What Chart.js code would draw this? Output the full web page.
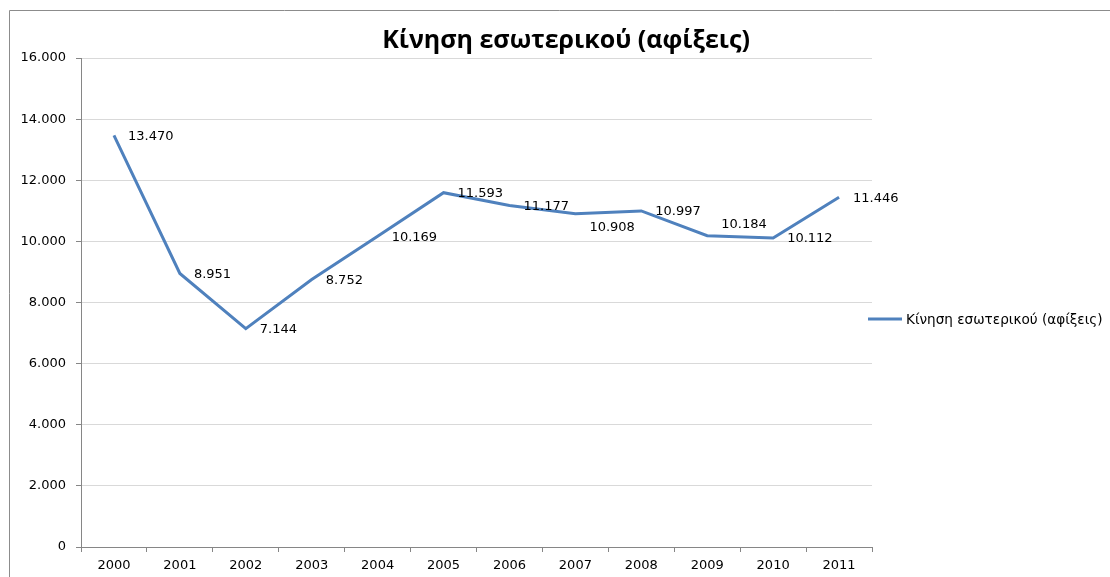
<!DOCTYPE html>
<html>
<head>
<meta charset="utf-8">
<script src="https://cdn.jsdelivr.net/npm/chart.js@4"></script>
<style>
  html, body { margin: 0; padding: 0; background: #fff; overflow: hidden; }
  #wrap { position: relative; width: 1110px; height: 577px; }
</style>
</head>
<body>
<div id="wrap"><canvas id="lineChart" width="1110" height="577"></canvas></div>
<script>
// chart data
const years = ['2000', '2001', '2002', '2003', '2004', '2005', '2006', '2007', '2008', '2009', '2010', '2011'];
const arrivals = [13470, 8951, 7144, 8752, 10169, 11593, 11177, 10908, 10997, 10184, 10112, 11446];
const seriesName = 'Κίνηση εσωτερικού (αφίξεις)';
const chartTitle = 'Κίνηση εσωτερικού (αφίξεις)';

const lineColor = '#4f81bd';
const labelFont = '13px "DejaVu Sans"';

// greek style thousands separator
function fmt(v) {
  return String(Math.round(v)).replace(/\B(?=(\d{3})+(?!\d))/g, '.');
}

// frame, title, legend and value labels
const excelLook = {
  id: 'excelLook',
  beforeDraw(chart) {
    const ctx = chart.ctx;
    ctx.save();
    ctx.strokeStyle = '#8c8c8c';
    ctx.lineWidth = 1;
    ctx.beginPath();
    ctx.moveTo(9.5, 577);
    ctx.lineTo(9.5, 10.5);
    ctx.lineTo(1110, 10.5);
    ctx.stroke();
    ctx.restore();
  },
  afterDatasetsDraw(chart, args, opts) {
    const ctx = chart.ctx;
    const meta = chart.getDatasetMeta(0);
    ctx.save();
    ctx.fillStyle = '#000';
    ctx.font = labelFont;
    ctx.textAlign = 'left';
    ctx.textBaseline = 'middle';
    meta.data.forEach((pt, i) => {
      const dy = (opts.nudge && opts.nudge[i]) || 0;
      ctx.fillText(fmt(arrivals[i]), pt.x + 14, pt.y + 1 + dy);
    });

    // title
    ctx.font = 'bold 25px "Open Sans"';
    ctx.textAlign = 'center';
    ctx.textBaseline = 'alphabetic';
    ctx.fillText(chartTitle, 566, 48);

    // legend
    ctx.strokeStyle = lineColor;
    ctx.lineWidth = 3;
    ctx.beginPath();
    ctx.moveTo(868, 319);
    ctx.lineTo(902, 319);
    ctx.stroke();
    ctx.font = '13.6px "DejaVu Sans"';
    ctx.textAlign = 'left';
    ctx.textBaseline = 'middle';
    ctx.fillText(seriesName, 906, 320);
    ctx.restore();
  }
};

const ctx = document.getElementById('lineChart').getContext('2d');
new Chart(ctx, {
  type: 'line',
  data: {
    labels: years,
    datasets: [{
      label: seriesName,
      data: arrivals,
      borderColor: lineColor,
      borderWidth: 3,
      pointRadius: 0,
      tension: 0,
      fill: false
    }]
  },
  options: {
    responsive: false,
    animation: false,
    layout: { padding: { top: 58, right: 238, bottom: 0, left: 0 } },
    plugins: {
      legend: { display: false },
      title: { display: false },
      tooltip: { enabled: false },
      excelLook: { nudge: { 7: 13, 9: -12 } }
    },
    scales: {
      x: {
        offset: true,
        grid: {
          offset: true,
          drawOnChartArea: false,
          tickLength: 5,
          tickColor: '#868686'
        },
        border: { color: '#868686' },
        ticks: { color: '#000', font: { family: 'DejaVu Sans', size: 13 }, padding: 6, maxRotation: 0 },
        afterFit(scale) { scale.height = 30; }
      },
      y: {
        min: 0,
        max: 16000,
        grid: { color: '#d9d9d9', tickLength: 5, tickColor: '#868686' },
        border: { color: '#868686' },
        ticks: {
          stepSize: 2000,
          color: '#000',
          padding: 10,
          font: { family: 'DejaVu Sans', size: 13 },
          callback: (v) => fmt(v)
        },
        afterFit(scale) { scale.width = 81; }
      }
    }
  },
  plugins: [excelLook]
});
</script>
</body>
</html>
